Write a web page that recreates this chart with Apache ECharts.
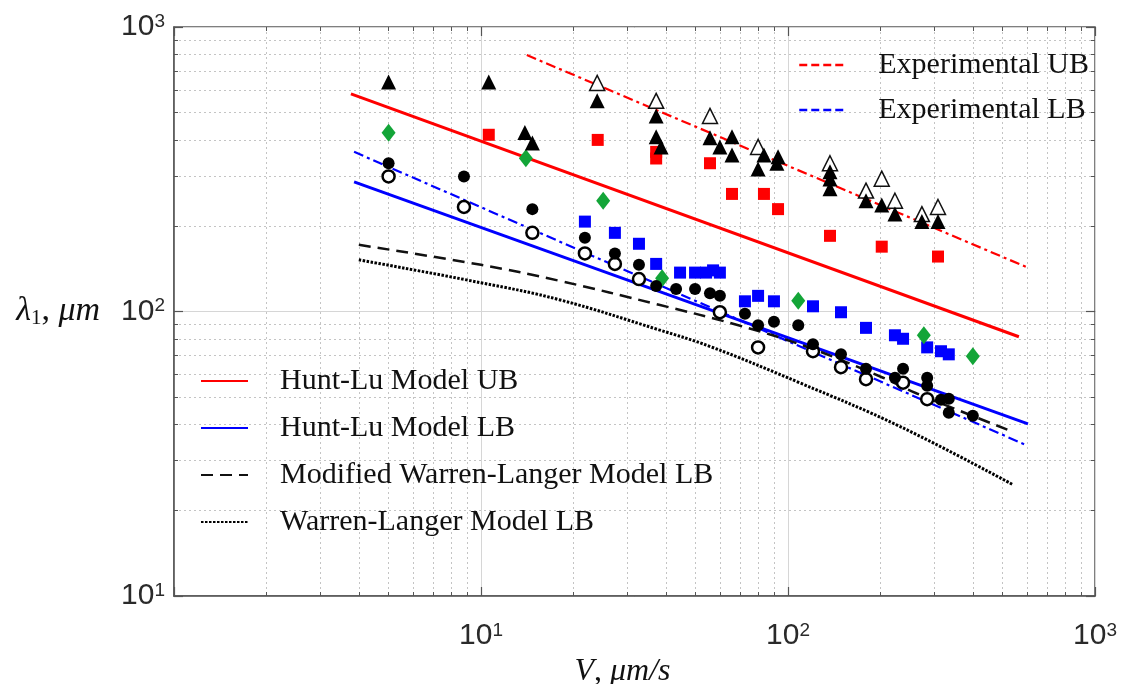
<!DOCTYPE html>
<html>
<head>
<meta charset="utf-8">
<script src="https://cdn.jsdelivr.net/npm/echarts@6/dist/echarts.min.js"></script>
<style>
  html, body { margin: 0; padding: 0; background: #fff; }
  #chart { width: 1137px; height: 684px; }
</style>
</head>
<body>
<div id="chart"></div>
<script>
// Model / fit lines  [V (um/s), lambda1 (um)]
const huntLuUB = [[3.77, 582], [565, 81.5]];
const huntLuLB = [[3.86, 285.5], [605, 40.3]];
const expUB = [[14.1, 797], [596, 143.5]];
const expLB = [[3.86, 364], [601, 33.8]];
const modWarrenLanger = [[4, 171.5], [10, 145.9], [18, 128.2], [38, 105.6], [68, 89.8],
  [115, 75.2], [204, 58.5], [263, 51.5], [540, 37.8]];
const warrenLanger = [[4, 151.9], [10, 126.2], [18, 110], [38, 86.2], [56, 75.2],
  [109, 56.2], [232, 39.4], [541, 24.6]];

// Measured points
const triFilled = [[5.0, 641], [10.6, 641], [13.9, 426], [14.7, 391], [23.9, 550], [37.2, 487],
  [37.2, 411], [38.6, 379], [55.7, 408], [60, 379], [65.7, 411], [65.7, 355], [79.9, 317],
  [83.5, 355], [92.8, 350], [92, 332], [137, 310], [137, 292], [137, 270], [179.5, 245],
  [202, 237], [223, 220], [273, 207], [308, 207]];
const triOpen = [[23.9, 636], [37.2, 550], [55.7, 487], [79.9, 379], [137, 332], [179.5, 266],
  [202, 293], [223, 245], [273, 220], [308, 233]];
const sqRed = [[10.6, 418], [24, 401], [37.2, 364], [37.2, 345], [55.7, 332], [65.7, 259],
  [83.5, 259], [92.8, 229], [137, 184.5], [202, 169], [308, 156]];
const diamondGreen = [[5.0, 425], [14.0, 346], [25.0, 245], [38.9, 131], [108, 109],
  [277, 82.5], [400, 69.6]];
const sqBlue = [[21.8, 207], [27.3, 189], [32.7, 173], [37.2, 147], [44.5, 137], [49.8, 137],
  [54.1, 137], [57, 139.5], [60, 137], [72.4, 108.6], [79.9, 113.5], [90, 108.6],
  [120.6, 104.3], [148.8, 99.4], [179.5, 87.6], [223, 82.5], [237, 80.2], [284, 74.8],
  [315, 72.5], [334, 70.7]];
const circFilled = [[5.0, 332], [8.8, 298], [14.7, 229], [21.8, 181.5], [27.3, 160], [32.7, 146],
  [37.2, 123], [43.2, 120], [49.8, 120], [55.7, 116], [60, 113.5], [72.4, 98.2], [79.9, 89.4],
  [90, 92], [108, 89.4], [120.6, 76.7], [148.8, 70.7], [179.5, 62.9], [237, 62.9], [223, 58.5],
  [284, 58.5], [284, 54.8], [334, 49.4], [315, 49], [334, 44.1], [400, 43]];
const circOpen = [[5.0, 298.5], [8.8, 233], [14.7, 189], [21.8, 160], [27.3, 147], [32.7, 130],
  [60, 99.4], [79.9, 74.8], [120.6, 72.5], [148.8, 63.7], [179.5, 57.8], [237, 56.2], [284, 49.2]];

const legendTop = ['Experimental UB', 'Experimental LB'];
const legendBottom = ['Hunt-Lu Model UB', 'Hunt-Lu Model LB', 'Modified Warren-Langer Model LB', 'Warren-Langer Model LB'];

const chart = echarts.init(document.getElementById('chart'));

const labelRich = {
  b: { fontFamily: 'Liberation Sans', fontSize: 30, color: '#2a2a2a' },
  s: { fontFamily: 'Liberation Sans', fontSize: 19, color: '#2a2a2a', verticalAlign: 'top' }
};
function powLabel(v) {
  const e = Math.round(Math.log10(v));
  return '{b|10}{s|' + e + '}';
}

const serifText = { fontFamily: 'Liberation Serif', fontSize: 30, color: '#111', lineHeight: 30, padding: [0, 0, 0, 27] };

function lineSeries(name, data, color, width, type, smooth) {
  return {
    name: name, type: 'line', data: data, symbol: 'none', z: 3, smooth: smooth || false,
    lineStyle: { color: color, width: width, type: type },
    itemStyle: { color: color },
    emphasis: { disabled: true }
  };
}
function markSeries(data, symbol, size, fill, border, bw) {
  return {
    type: 'scatter', data: data, symbol: symbol, symbolSize: size, z: 5,
    itemStyle: { color: fill, borderColor: border, borderWidth: bw, opacity: 1 },
    emphasis: { disabled: true }
  };
}

const axisCommon = {
  type: 'log', logBase: 10, min: 1, max: 1000
};
const tickStyle = { show: true, inside: true, length: 9, lineStyle: { color: '#555', width: 1.2 } };
const minorTickStyle = { show: true, splitNumber: 9, length: 4, lineStyle: { color: '#555', width: 1 } };

const option = {
  animation: false,
  backgroundColor: '#fff',
  grid: {
    left: 174, right: 42, top: 27, bottom: 88, outerBoundsMode: 'none', containLabel: false,
    show: true, borderColor: '#555', borderWidth: 1.5
  },
  legend: [
    {
      data: legendTop.map((n, i) => ({ name: n, lineStyle: { color: i === 0 ? '#ff0000' : '#0000ff', width: 2.5, type: [8, 4] } })),
      left: 798, top: 50, orient: 'vertical', itemWidth: 47, itemHeight: 14, itemGap: 15, padding: 0,
      itemStyle: { opacity: 0 }, textStyle: serifText, selectedMode: false
    },
    {
      data: legendBottom.map(n => ({ name: n })),
      left: 200, top: 366, orient: 'vertical', itemWidth: 47, itemHeight: 14, itemGap: 17, padding: 0,
      itemStyle: { opacity: 0 }, textStyle: serifText, selectedMode: false
    }
  ],
  xAxis: [
    Object.assign({}, axisCommon, {
      position: 'bottom',
      axisLine: { show: true, lineStyle: { color: '#555', width: 1.5 } },
      axisTick: tickStyle,
      minorTick: minorTickStyle,
      splitLine: { show: true, lineStyle: { color: '#d6d6d6', width: 1 } },
      minorSplitLine: { show: true, lineStyle: { color: '#c4c4c4', width: 1, type: [2, 3] } },
      axisLabel: { margin: 25, formatter: v => (v < 5 ? '' : powLabel(v)), rich: labelRich },
      name: '{i|V}{n|, }{i|μm/s}', nameLocation: 'middle', nameGap: 46,
      nameTextStyle: {
        padding: [0, 24, 0, 0],
        rich: {
          i: { fontFamily: 'Liberation Serif', fontStyle: 'italic', fontSize: 32, color: '#111' },
          n: { fontFamily: 'Liberation Serif', fontSize: 32, color: '#111' }
        }
      }
    }),
    Object.assign({}, axisCommon, {
      position: 'top',
      axisLine: { show: false },
      axisTick: tickStyle,
      minorTick: minorTickStyle,
      splitLine: { show: false },
      axisLabel: { show: false }
    })
  ],
  yAxis: [
    Object.assign({}, axisCommon, {
      min: 10,
      position: 'left',
      axisLine: { show: true, lineStyle: { color: '#555', width: 1.5 } },
      axisTick: tickStyle,
      minorTick: minorTickStyle,
      splitLine: { show: true, lineStyle: { color: '#d6d6d6', width: 1 } },
      minorSplitLine: { show: true, lineStyle: { color: '#c4c4c4', width: 1, type: [2, 3] } },
      axisLabel: { margin: 9, formatter: powLabel, rich: labelRich },
      name: '{i|λ}{sub|1}{n|, }{i|μm}', nameLocation: 'middle', nameGap: 74, nameRotate: 0,
      nameTextStyle: {
        align: 'right', verticalAlign: 'middle',
        rich: {
          i: { fontFamily: 'Liberation Serif', fontStyle: 'italic', fontSize: 34, color: '#111' },
          sub: { fontFamily: 'Liberation Serif', fontSize: 21, color: '#111', verticalAlign: 'bottom' },
          n: { fontFamily: 'Liberation Serif', fontSize: 34, color: '#111' }
        }
      }
    }),
    Object.assign({}, axisCommon, {
      min: 10,
      position: 'right',
      axisLine: { show: false },
      axisTick: tickStyle,
      minorTick: minorTickStyle,
      splitLine: { show: false },
      axisLabel: { show: false }
    })
  ],
  series: [
    lineSeries('Experimental UB', expUB, '#ff0000', 2.2, [10, 4, 3, 4]),
    lineSeries('Experimental LB', expLB, '#0000ff', 2.2, [10, 4, 3, 4]),
    lineSeries('Hunt-Lu Model UB', huntLuUB, '#ff0000', 3),
    lineSeries('Hunt-Lu Model LB', huntLuLB, '#0000ff', 3),
    lineSeries('Modified Warren-Langer Model LB', modWarrenLanger, '#111', 2.5, [12, 7], 0.4),
    lineSeries('Warren-Langer Model LB', warrenLanger, '#000', 3, [2.5, 1.5], 0.4),
    markSeries(sqRed, 'rect', 12, '#ff0000', '#ff0000', 0),
    markSeries(sqBlue, 'rect', 12, '#0000ff', '#0000ff', 0),
    markSeries(diamondGreen, 'diamond', [14, 18], '#13a538', '#13a538', 0),
    markSeries(triOpen, 'triangle', 15, '#fff', '#111', 1.5),
    markSeries(triFilled, 'triangle', 15, '#000', '#000', 0),
    markSeries(circOpen, 'circle', 12, '#fff', '#000', 2.5),
    markSeries(circFilled, 'circle', 12, '#000', '#000', 0)
  ]
};

chart.setOption(option);
</script>
</body>
</html>
